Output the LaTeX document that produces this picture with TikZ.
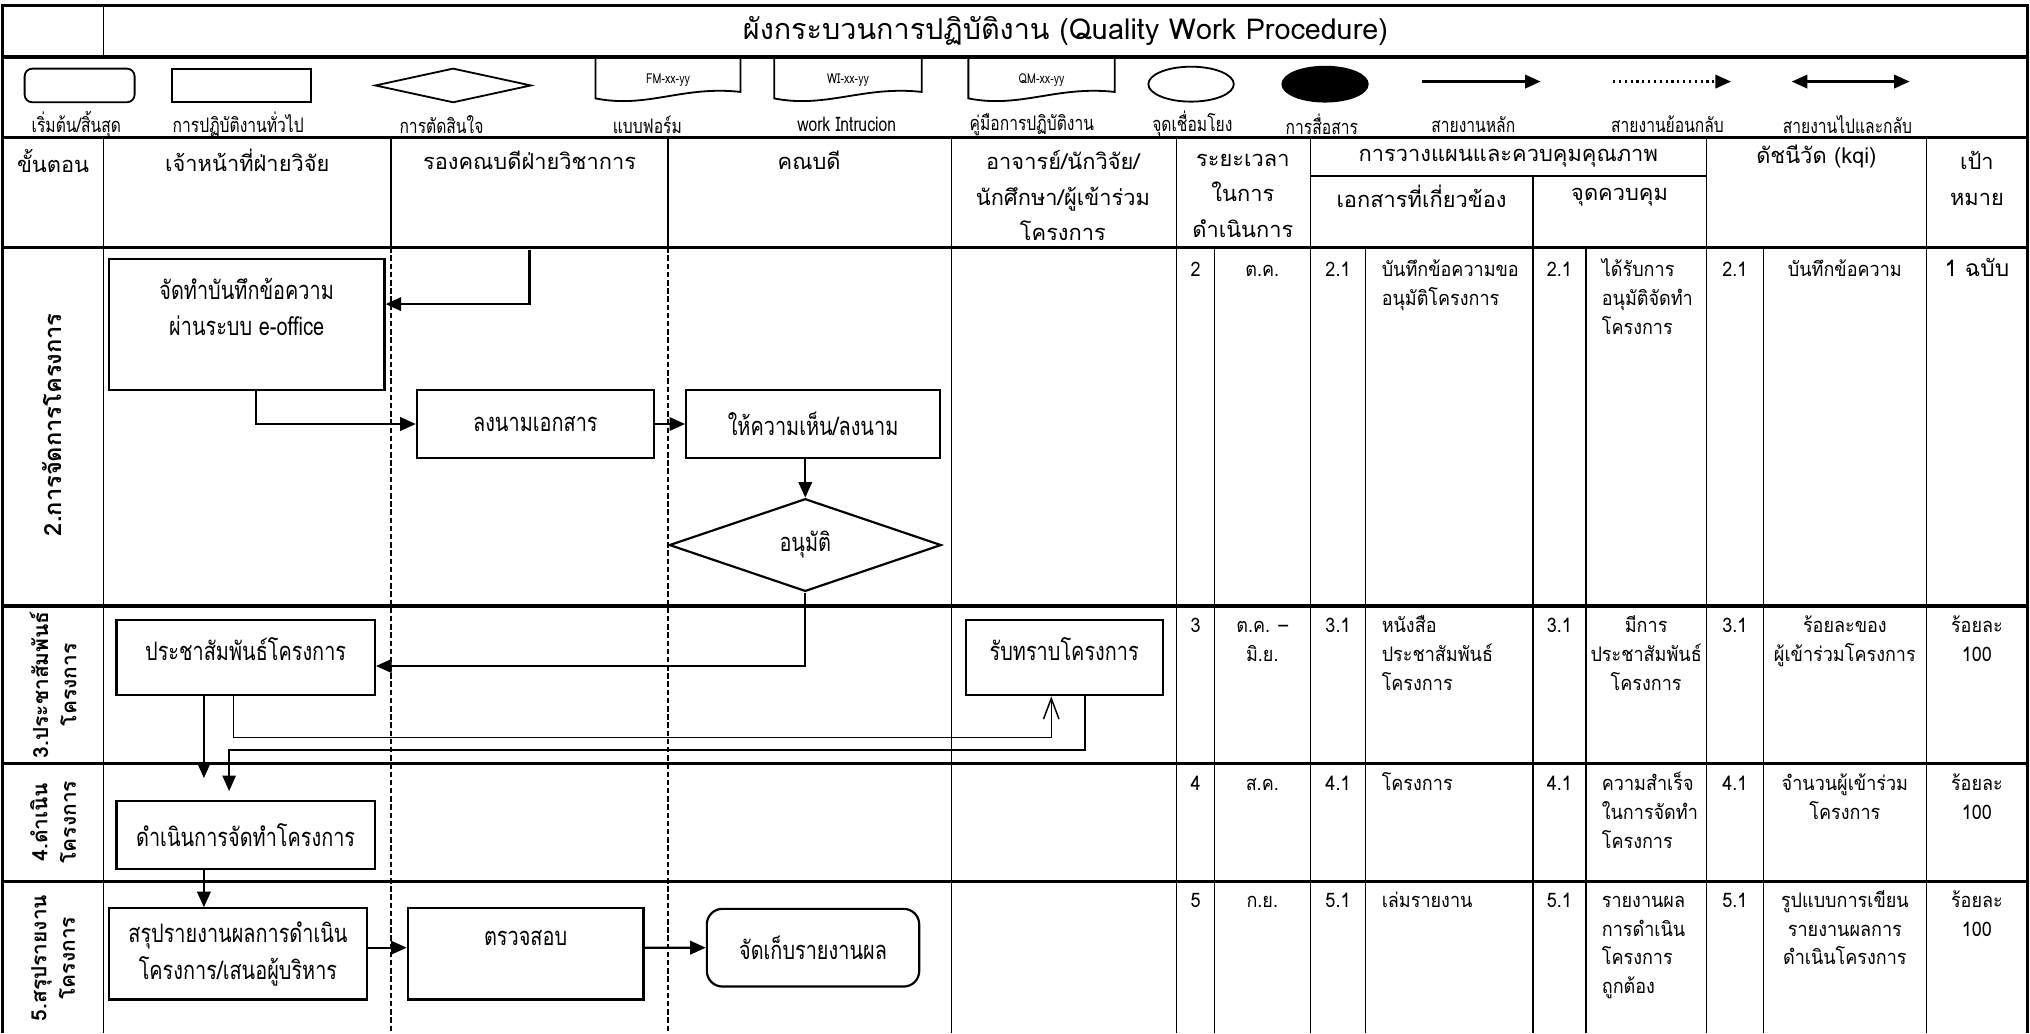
\documentclass[tikz,border=0pt]{standalone}
\usepackage{fontspec}
\setmainfont[Script=Thai]{Loma}
\newfontfamily\narrow[Script=Thai,FakeStretch=0.9]{Loma}
\newfontfamily\slim[Script=Thai,FakeStretch=0.78]{Loma}
\usetikzlibrary{arrows.meta,shapes.geometric}
\newcommand{\cellstrut}{\rule{0pt}{11pt}}
\lineskiplimit=-100pt

\begin{document}
\begin{tikzpicture}[x=0.025cm,y=-0.025cm,
  tbl/.style={line width=0.7pt},
  tblthick/.style={line width=1.8pt},
  sym/.style={line width=1pt},
  box/.style={draw,line width=1.2pt,align=center,inner sep=1pt,font=\slim\fontsize{14}{20}\selectfont},
  flow/.style={line width=1.2pt,-{Triangle[length=3mm,width=2.6mm]}},
  thinflow/.style={line width=0.8pt,-{Triangle[length=3mm,width=2.6mm]}},
  back/.style={line width=0.8pt,-{Straight Barb[length=4mm,width=3mm]}},
  head/.style={align=center,inner sep=0pt,font=\fontsize{12}{19.5}\selectfont},
  legend/.style={inner sep=0pt,font=\slim\fontsize{11}{12}\selectfont},
  cell/.style={anchor=north,align=center,inner sep=0pt,font=\narrow\fontsize{11}{15.8}\selectfont},
  cellL/.style={cell,anchor=north west,align=left},
  lane/.style={rotate=90,align=center,inner sep=0pt,font=\fontsize{11.5}{15.6}\selectfont\bfseries}]
\useasboundingbox (0,0) rectangle (1568,798);

% table frame
\draw[tblthick] (2,798) -- (2,4) -- (1566,4) -- (1566,798);
\foreach \y in {44,106,191,468,590,681} \draw[tblthick] (2,\y) -- (1566,\y);
\draw[tbl] (80,4) -- (80,44);
\draw[tbl] (1012,136) -- (1318,136);
\foreach \x in {80,735,909,1012,1318,1488} \draw[tbl] (\x,106) -- (\x,798);
\foreach \x in {938,1055,1225,1362} \draw[tbl] (\x,191) -- (\x,798);
\draw[tbl] (1184,136) -- (1184,798);
\foreach \x in {302,516} {
  \draw[tbl] (\x,106) -- (\x,191);
  \draw[tbl,dash pattern=on 3pt off 1.5pt] (\x,191) -- (\x,798);
}

% title
\node[font=\fontsize{15.8}{17}\selectfont] (title) at (823,24) {ผังกระบวนการปฏิบัติงาน (Quality Work Procedure)};

% legend
\draw[sym,rounded corners=0.15cm] (19,53) rectangle (104,79);
\draw[sym] (133,53) rectangle (240,79);
\draw[sym] (290,66) -- (350,53) -- (410,66) -- (350,79) -- cycle;
\foreach \xl/\xr/\code/\nm in {460/572/FM-xx-yy/fm,598/712/WI-xx-yy/wi,748/861/QM-xx-yy/qm}{
  \draw[sym] (\xl,44) -- (\xl,76) .. controls ({\xl+40},84) and ({\xr-45},66) .. (\xr,71) -- (\xr,44);
  \node[inner sep=0pt,font=\slim\fontsize{7.5}{8}\selectfont] (\nm) at ({(\xl+\xr)/2},62) {\code};
}
\draw[sym] (920,65) ellipse (33 and 13.5);
\draw[sym,fill=black] (1023.5,65) ellipse (33 and 13.5);
\draw[flow] (1098,63) -- (1190,63);
\draw[flow,dotted] (1246,63) -- (1337,63);
\draw[line width=1.2pt,{Triangle[length=3mm,width=2.6mm]}-{Triangle[length=3mm,width=2.6mm]}] (1384,63) -- (1475,63);
\node[legend] (lgstart) at (59,96) {เริ่มต้น/สิ้นสุด};
\node[legend] (lgproc) at (184,96) {การปฏิบัติงานทั่วไป};
\node[legend] (lgdec) at (341,96) {การตัดสินใจ};
\node[legend] (lgform) at (500,96) {แบบฟอร์ม};
\node[legend] (lgwi) at (654,96) {work Intrucion};
\node[legend] (lgqm) at (797,96) {คู่มือการปฏิบัติงาน};
\node[legend] (lglink) at (921,96) {จุดเชื่อมโยง};
\node[legend] (lgcomm) at (1021,96) {การสื่อสาร};
\node[legend] (lgmain) at (1138,96) {สายงานหลัก};
\node[legend] (lgback) at (1288,96) {สายงานย้อนกลับ};
\node[legend] (lgboth) at (1427,96) {สายงานไปและกลับ};

% column heads
\node[head] (hstep) at (41,124) {ขั้นตอน};
\node[head] (hstaff) at (191,124) {เจ้าหน้าที่ฝ่ายวิจัย};
\node[head] (hvice) at (409,124) {รองคณบดีฝ่ายวิชาการ};
\node[head] (hdean) at (625,124) {คณบดี};
\node[head] (hlect) at (821,151) {อาจารย์/นักวิจัย/\\นักศึกษา/ผู้เข้าร่วม\\โครงการ};
\node[head] (htime) at (960,151) {ระยะเวลา\\ในการ\\ดำเนินการ};
\node[head] (hplan) at (1165,122) {การวางแผนและควบคุมคุณภาพ};
\node[head] (hdocs) at (1098,152) {เอกสารที่เกี่ยวข้อง};
\node[head] (hctrl) at (1251,152) {จุดควบคุม};
\node[head] (hkqi) at (1403,121) {ดัชนีวัด (kqi)};
\node[head] (htgt) at (1527,138) {เป้า\\หมาย};

% lanes
\node[lane,font=\fontsize{13}{15.6}\selectfont\bfseries] (lane2) at (40,328) {2.การจัดการโครงการ};
\node[lane] (lane3) at (41,529) {3.ประชาสัมพันธ์\\โครงการ};
\node[lane] (lane4) at (41,635) {4.ดำเนิน\\โครงการ};
\node[lane] (lane5) at (41,740) {5.สรุปรายงาน\\โครงการ};

% flow boxes
\node[box,minimum width=5.325cm,minimum height=2.525cm,text depth=19pt] (memo) at (190.5,250.5) {จัดทำบันทึกข้อความ\\ผ่านระบบ e-office};
\node[box,minimum width=4.575cm,minimum height=1.325cm] (sign) at (413.5,327.5) {ลงนามเอกสาร};
\node[box,minimum width=4.9cm,minimum height=1.325cm] (opinion) at (628,327.5) {ให้ความเห็น/ลงนาม};
\node[draw,diamond,line width=1.2pt,aspect=3,minimum width=5.25cm,minimum height=1.79cm,inner sep=0pt,font=\slim\fontsize{14}{16}\selectfont] (approve) at (622,421) {อนุมัติ};
\node[box,minimum width=4.99cm,minimum height=1.45cm,text depth=10pt] (pr) at (189.75,508) {ประชาสัมพันธ์โครงการ};
\node[box,minimum width=3.8cm,minimum height=1.45cm,text depth=10pt] (ack) at (822,508) {รับทราบโครงการ};
\node[box,minimum width=4.99cm,minimum height=1.3cm] (run) at (189.75,645) {ดำเนินการจัดทำโครงการ};
\node[box,minimum width=4.99cm,minimum height=1.76cm] (summary) at (183.8,736.8) {สรุปรายงานผลการดำเนิน\\โครงการ/เสนอผู้บริหาร};
\node[box,minimum width=4.55cm,minimum height=1.76cm,text depth=17pt] (check) at (406,736.8) {ตรวจสอบ};
\node[box,rounded corners=0.3cm,minimum width=4.1cm,minimum height=1.5cm] (store) at (628,732) {จัดเก็บรายงานผล};

% connectors
\coordinate (fromtop) at (409,193);
\coordinate (drop1) at (157.5,601);
\coordinate (drop2) at (177,611);
\draw[flow] (fromtop) |- ([yshift=0.39cm]memo.east);
\draw[flow] ([xshift=0.18cm]memo.south) |- (sign.west);
\draw[flow] (sign.east) -- (opinion.west);
\draw[flow] (opinion.south -| approve.north) -- (approve.north);
\draw[flow] (approve.south) |- ([yshift=-0.16cm]pr.east);
\draw[back] ([xshift=-0.24cm]pr.south) -- ++(0,31.6) -| ([xshift=-0.25cm]ack.south);
\draw[thinflow] ([xshift=0.4cm]ack.south) -- ++(0,41.6) -| (drop2);
\draw[thinflow] (pr.south -| drop1) -- (drop1);
\draw[flow] (run.south -| drop1) -- (drop1 |- summary.north);
\draw[flow] ([yshift=0.12cm]summary.east) -- ([yshift=0.12cm]summary.east -| check.west);
\draw[flow] ([yshift=0.12cm]check.east) -- (store.west);

% row 2
\node[cell] (no2) at (923.5,198) {\cellstrut 2};
\node[cell] (tm2) at (975,198) {\cellstrut ต.ค.};
\node[cell] (da2) at (1033.5,198) {\cellstrut 2.1};
\node[cellL] (doc2) at (1067,198) {\cellstrut บันทึกข้อความขอ\\อนุมัติโครงการ};
\node[cell] (db2) at (1204.5,198) {\cellstrut 2.1};
\node[cellL] (ctl2) at (1237,198) {\cellstrut ได้รับการ\\อนุมัติจัดทำ\\โครงการ};
\node[cell] (dc2) at (1340,198) {\cellstrut 2.1};
\node[cell] (kqi2) at (1425,198) {\cellstrut บันทึกข้อความ};
\node[cell,font=\fontsize{12.5}{16}\selectfont] (tgt2) at (1527,198) {\cellstrut 1 ฉบับ};

% row 3
\node[cell] (no3) at (923.5,473) {\cellstrut 3};
\node[cell] (tm3) at (975,473) {\cellstrut ต.ค. –\\มิ.ย.};
\node[cell] (da3) at (1033.5,473) {\cellstrut 3.1};
\node[cellL] (doc3) at (1067,473) {\cellstrut หนังสือ\\ประชาสัมพันธ์\\โครงการ};
\node[cell] (db3) at (1204.5,473) {\cellstrut 3.1};
\node[cell] (ctl3) at (1271.5,473) {\cellstrut มีการ\\ประชาสัมพันธ์\\โครงการ};
\node[cell] (dc3) at (1340,473) {\cellstrut 3.1};
\node[cell] (kqi3) at (1425,473) {\cellstrut ร้อยละของ\\ผู้เข้าร่วมโครงการ};
\node[cell] (tgt3) at (1527,473) {\cellstrut ร้อยละ\\100};

% row 4
\node[cell] (no4) at (923.5,595) {\cellstrut 4};
\node[cell] (tm4) at (975,595) {\cellstrut ส.ค.};
\node[cell] (da4) at (1033.5,595) {\cellstrut 4.1};
\node[cellL] (doc4) at (1067,595) {\cellstrut โครงการ};
\node[cell] (db4) at (1204.5,595) {\cellstrut 4.1};
\node[cellL] (ctl4) at (1237,595) {\cellstrut ความสำเร็จ\\ในการจัดทำ\\โครงการ};
\node[cell] (dc4) at (1340,595) {\cellstrut 4.1};
\node[cell] (kqi4) at (1425,595) {\cellstrut จำนวนผู้เข้าร่วม\\โครงการ};
\node[cell] (tgt4) at (1527,595) {\cellstrut ร้อยละ\\100};

% row 5
\node[cell] (no5) at (923.5,685) {\cellstrut 5};
\node[cell] (tm5) at (975,685) {\cellstrut ก.ย.};
\node[cell] (da5) at (1033.5,685) {\cellstrut 5.1};
\node[cellL] (doc5) at (1067,685) {\cellstrut เล่มรายงาน};
\node[cell] (db5) at (1204.5,685) {\cellstrut 5.1};
\node[cellL] (ctl5) at (1237,685) {\cellstrut รายงานผล\\การดำเนิน\\โครงการ\\ถูกต้อง};
\node[cell] (dc5) at (1340,685) {\cellstrut 5.1};
\node[cell] (kqi5) at (1425,685) {\cellstrut รูปแบบการเขียน\\รายงานผลการ\\ดำเนินโครงการ};
\node[cell] (tgt5) at (1527,685) {\cellstrut ร้อยละ\\100};
\end{tikzpicture}
\end{document}
